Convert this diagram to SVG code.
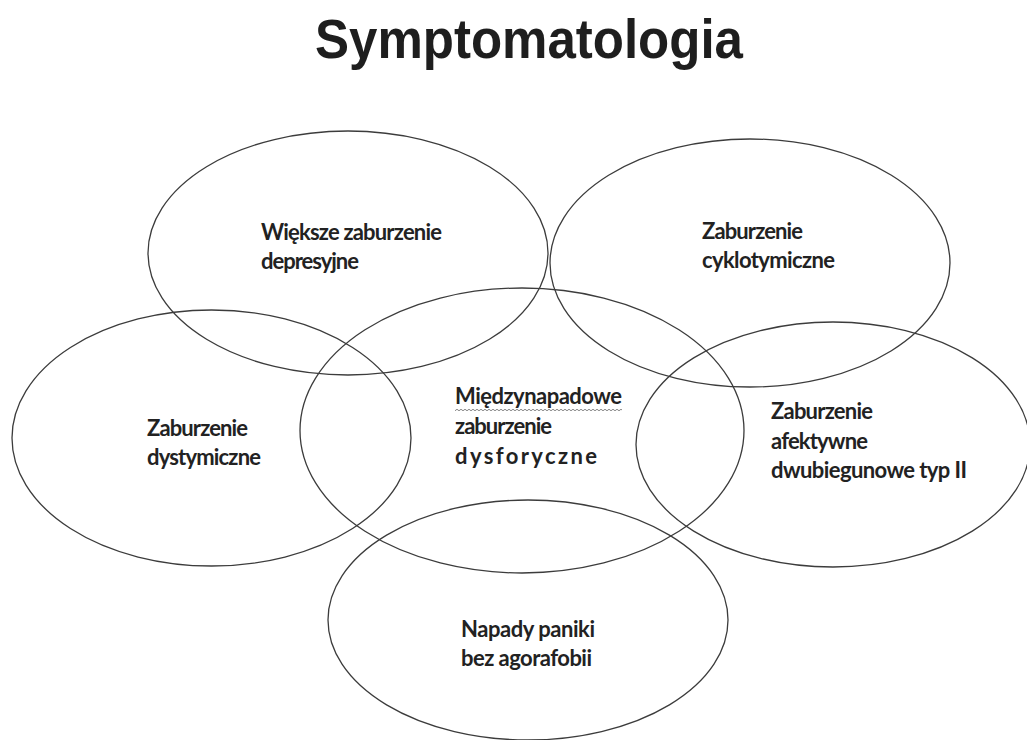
<svg xmlns="http://www.w3.org/2000/svg" width="1027" height="740" viewBox="0 0 1027 740">
  <style>
    .ring { fill: none; stroke: #3c3c3c; stroke-width: 1.3; }
    .lbl { font-family: Lato, "Noto Sans", "DejaVu Sans", sans-serif; font-weight: 700; font-size: 22px; fill: #222; }
    .title { font-family: "Liberation Sans", Arial, sans-serif; font-weight: 700; font-size: 56px; fill: #1e1e1e; }
  </style>
  <defs>
    <pattern id="wave" x="0" y="0" width="4" height="4" patternUnits="userSpaceOnUse">
      <path d="M0 2 Q1 0.5 2 2 T4 2" fill="none" stroke="#777" stroke-width="0.9"/>
    </pattern>
  </defs>
  <rect width="1027" height="740" fill="#fff"/>
  <text class="title" x="315" y="58" textLength="428" lengthAdjust="spacingAndGlyphs">Symptomatologia</text>

  <g id="connectors"></g>

  <g id="node-depresyjne">
    <ellipse class="ring" cx="348" cy="253" rx="200" ry="122"/>
    <text class="lbl" x="261" y="240" textLength="181" lengthAdjust="spacing">Większe zaburzenie</text>
    <text class="lbl" x="261" y="269" textLength="98" lengthAdjust="spacing">depresyjne</text>
  </g>
  <g id="node-cyklotymiczne">
    <ellipse class="ring" cx="750" cy="263" rx="200" ry="124"/>
    <text class="lbl" x="702" y="239" textLength="101" lengthAdjust="spacing">Zaburzenie</text>
    <text class="lbl" x="702" y="268" textLength="133" lengthAdjust="spacing">cyklotymiczne</text>
  </g>
  <g id="node-dystymiczne">
    <ellipse class="ring" cx="211.5" cy="438" rx="199.5" ry="128"/>
    <text class="lbl" x="147" y="436" textLength="101" lengthAdjust="spacing">Zaburzenie</text>
    <text class="lbl" x="147" y="465" textLength="114" lengthAdjust="spacing">dystymiczne</text>
  </g>
  <g id="node-miedzynapadowe">
    <ellipse class="ring" cx="522" cy="430.5" rx="222" ry="142.5"/>
    <text class="lbl" x="455" y="404" textLength="167" lengthAdjust="spacing">Międzynapadowe</text>
    <rect x="455" y="407" width="167" height="4" fill="url(#wave)"/>
    <text class="lbl" x="455" y="434" textLength="97" lengthAdjust="spacing">zaburzenie</text>
    <text class="lbl" x="455" y="464" textLength="142" lengthAdjust="spacing">dysforyczne</text>
  </g>
  <g id="node-dwubiegunowe">
    <ellipse class="ring" cx="833" cy="444.5" rx="197" ry="122.5"/>
    <text class="lbl" x="771" y="419" textLength="102" lengthAdjust="spacing">Zaburzenie</text>
    <text class="lbl" x="771" y="449" textLength="97" lengthAdjust="spacing">afektywne</text>
    <text class="lbl" x="771" y="478" textLength="196" lengthAdjust="spacing">dwubiegunowe typ II</text>
  </g>
  <g id="node-panika">
    <ellipse class="ring" cx="528" cy="620" rx="200" ry="120"/>
    <text class="lbl" x="461" y="637" textLength="134" lengthAdjust="spacing">Napady paniki</text>
    <text class="lbl" x="461" y="666" textLength="131" lengthAdjust="spacing">bez agorafobii</text>
  </g>
</svg>
